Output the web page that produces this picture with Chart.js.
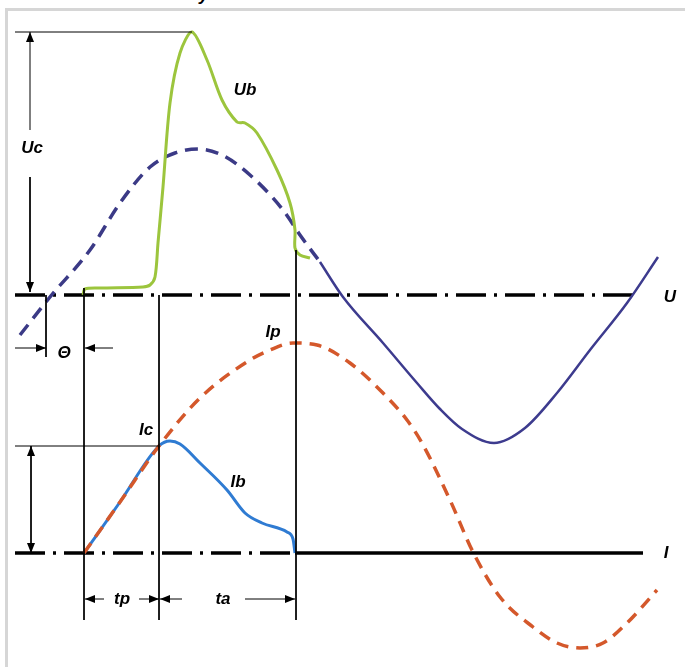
<!DOCTYPE html>
<html>
<head>
<meta charset="utf-8">
<script src="https://cdn.jsdelivr.net/npm/chart.js@4"></script>
<style>
  html, body { margin: 0; padding: 0; background: #fff; }
  #wrap { position: relative; width: 685px; height: 667px; overflow: hidden; }
  #frame { position: absolute; left: 5px; top: 8px; width: 700px; height: 700px;
           border-top: 3px solid #d6d6d6; border-left: 3px solid #d6d6d6; }
  #cut { position: absolute; left: 199px; top: -14px; font: bold italic 17px "Liberation Sans", Arial, sans-serif; }
  canvas { position: absolute; left: 0; top: 0; }
</style>
</head>
<body>
<div id="wrap">
  <div id="frame"></div>
  <div id="cut">y</div>
  <canvas id="chart" width="685" height="667"></canvas>
</div>
<script>
// time axis t (left to right), voltage u above the U axis, current i above the I axis

// supply voltage: dashed part before arc end, solid afterwards
const uLead = [[20,-40],[50,-2],[90,45],[120,92],[150,128],[175,142],[198,146],[222,140],[250,120],[283,85],[300,60],[320,33]];
const uTail = [[320,33],[343,-2],[383,-48],[417,-88],[440,-114],[462,-134],[494,-148],[525,-133],[557,-98],[590,-55],[627,-8],[658,38]];

// arc voltage across the breaker
const ubCurve = [[83,0],[85,6],[100,7],[143,8],[150,10],[155,18],[158,52],[163,108],[170,192],[180,242],[192,263],[207,235],[222,195],[237,173],[245,172],[257,162],[277,125],[290,92],[295,65],[295,47],[300,40],[310,37]];

// prospective current (dashed) and breaker current
const ipCurve = [[84,0],[120,51],[159,107],[200,155],[250,193],[270,203],[293,210],[317,208],[350,190],[383,160],[407,133],[422,110],[450,53],[473,1],[500,-44],[533,-74],[557,-90],[580,-95],[603,-90],[627,-70],[657,-37]];
const ibCurve = [[84,0],[120,51],[159,107],[170,112],[180,109],[200,90],[227,63],[245,40],[262,30],[287,21],[293,14],[295,0]];

// axis lines
const uAxisLine = [[15,0],[637,0]];
const iAxisDashed = [[15,0],[295,0]];
const iAxisSolid = [[295,0],[643,0]];

// time marks
const t0 = 84, tc = 159, te = 296, tTheta = 46;
const ucPeak = 263, icLevel = 107;

const labels = [
  { text: "Uc", t: 32, v: 147, axis: "yU" },
  { text: "Ub", t: 245, v: 205, axis: "yU" },
  { text: "\u0398", t: 64, v: -58, axis: "yU" },
  { text: "U", t: 670, v: -2, axis: "yU" },
  { text: "Ip", t: 273, v: 221, axis: "yI" },
  { text: "Ic", t: 146, v: 123, axis: "yI" },
  { text: "Ib", t: 238, v: 71, axis: "yI" },
  { text: "I", t: 666, v: 0, axis: "yI" },
  { text: "tp", t: 122, v: -46, axis: "yI" },
  { text: "ta", t: 223, v: -46, axis: "yI" },
];

const pts = (arr) => arr.map(([x, y]) => ({ x, y }));

function line(data, axis, color, width, extra = {}) {
  return {
    data: pts(data),
    yAxisID: axis,
    showLine: true,
    borderColor: color,
    backgroundColor: color,
    borderWidth: width,
    pointRadius: 0,
    fill: false,
    tension: 0,
    ...extra,
  };
}

const smooth = { cubicInterpolationMode: "monotone" };
const thin = (data, axis, heads) => line(data, axis, "#000", 1, heads ? { heads } : {});

const datasets = [
  line(ipCurve, "yI", "#d4582b", 3.5, { borderDash: [12, 8], order: 1, ...smooth }),
  line(ibCurve, "yI", "#2f7bd2", 3, { order: 2, ...smooth }),
  line(ubCurve, "yU", "#9cc53d", 3, { tension: 0.3, order: 3 }),
  line(uLead, "yU", "#3b3a86", 3.5, { borderDash: [13, 8], order: 4, ...smooth }),
  line(uTail, "yU", "#3d3b8e", 2.5, { order: 5, ...smooth }),
  line(uAxisLine, "yU", "#000", 3.5, { borderDash: [30, 8, 3, 8], order: 6 }),
  line(iAxisDashed, "yI", "#000", 3.5, { borderDash: [30, 8, 3, 8], order: 6 }),
  line(iAxisSolid, "yI", "#000", 3.5, { order: 6 }),
  // guides
  thin([[15, ucPeak], [192, ucPeak]], "yU"),
  thin([[15, icLevel], [tc, icLevel]], "yI"),
  thin([[t0, 7], [t0, -325]], "yU"),
  thin([[tc, 0], [tc, -325]], "yU"),
  thin([[te, 45], [te, -325]], "yU"),
  thin([[tTheta, 0], [tTheta, -62]], "yU"),
  // dimension arrows
  thin([[30, 165], [30, ucPeak]], "yU", ["end"]),
  thin([[30, 118], [30, 3]], "yU", ["end"]),
  thin([[31, icLevel], [31, 0]], "yI", ["start", "end"]),
  thin([[15, -53], [tTheta, -53]], "yU", ["end"]),
  thin([[113, -53], [t0 + 1, -53]], "yU", ["end"]),
  thin([[104, -46], [t0 + 1, -46]], "yI", ["end"]),
  thin([[139, -46], [tc, -46]], "yI", ["end"]),
  thin([[182, -46], [tc + 1, -46]], "yI", ["end"]),
  thin([[245, -46], [te - 1, -46]], "yI", ["end"]),
];

const arrowPlugin = {
  id: "arrows",
  afterDatasetsDraw(chart) {
    const ctx = chart.ctx;
    chart.data.datasets.forEach((ds, i) => {
      if (!ds.heads) return;
      const p = chart.getDatasetMeta(i).data;
      ds.heads.forEach((end) => {
        const a = end === "start" ? p[0] : p[p.length - 1];
        const b = end === "start" ? p[1] : p[p.length - 2];
        const ang = Math.atan2(a.y - b.y, a.x - b.x);
        ctx.save();
        ctx.translate(a.x, a.y);
        ctx.rotate(ang);
        ctx.beginPath();
        ctx.moveTo(0, 0);
        ctx.lineTo(-10, -4);
        ctx.lineTo(-10, 4);
        ctx.closePath();
        ctx.fillStyle = "#000";
        ctx.fill();
        ctx.restore();
      });
    });
  },
};

const labelPlugin = {
  id: "labels",
  afterDraw(chart) {
    const ctx = chart.ctx;
    ctx.save();
    ctx.font = 'bold italic 17px "Liberation Sans", Arial, sans-serif';
    ctx.fillStyle = "#000";
    ctx.textAlign = "center";
    ctx.textBaseline = "middle";
    labels.forEach((l) => {
      const x = chart.scales.x.getPixelForValue(l.t);
      const y = chart.scales[l.axis].getPixelForValue(l.v);
      ctx.fillText(l.text, x, y);
    });
    ctx.restore();
  },
};

new Chart(document.getElementById("chart"), {
  type: "scatter",
  data: { datasets },
  options: {
    responsive: false,
    animation: false,
    layout: { padding: 0 },
    plugins: { legend: { display: false }, tooltip: { enabled: false } },
    scales: {
      x: { type: "linear", display: false, min: 0, max: 685 },
      yU: { type: "linear", display: false, min: -372, max: 295 },
      yI: { type: "linear", display: false, min: -114, max: 553 },
    },
  },
  plugins: [arrowPlugin, labelPlugin],
});
</script>
</body>
</html>
